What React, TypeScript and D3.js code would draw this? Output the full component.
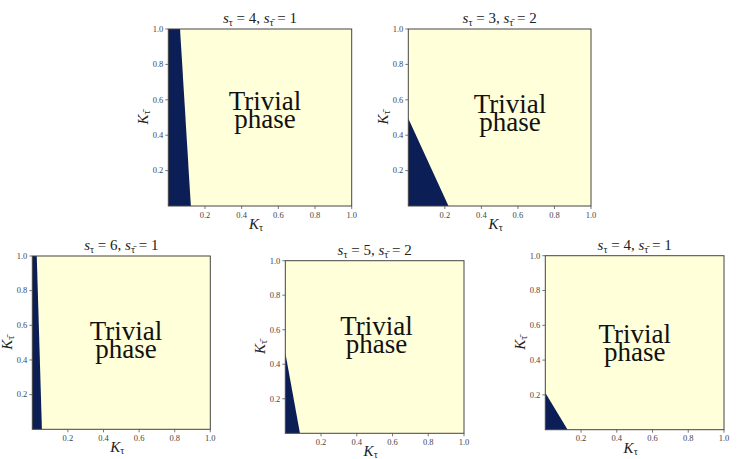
import React from "react";
import * as d3 from "d3";

// ---- data ----
const sTau = [4, 3, 6, 5, 4];
const sTauBar = [1, 2, 1, 2, 1];
// boundary of the dark (non-trivial) region: top point (x at y=top) and bottom point
const boundaryTopX = [0.064, 0, 0.025, 0, 0];
const boundaryTopY = [1.0, 0.495, 1.0, 0.467, 0.213];
const boundaryBottomX = [0.123, 0.22, 0.054, 0.082, 0.125];
const labelX = [0.527, 0.557, 0.526, 0.51, 0.5];
const labelY = [0.542, 0.525, 0.515, 0.57, 0.498];
const tickValues = [0.2, 0.4, 0.6, 0.8, 1.0];
const phaseLines = ["Trivial", "phase"];

// ---- layout ----
const boxes = [
  { x: 168.3, y: 29, w: 183.4, h: 177 },
  { x: 408.3, y: 29, w: 182.7, h: 177 },
  { x: 32.3, y: 256, w: 178, h: 173.3 },
  { x: 285.3, y: 260.7, w: 178.7, h: 172.6 },
  { x: 545.3, y: 255.7, w: 178.7, h: 174 },
];

const LIGHT = "#ffffd9";
const DARK = "#0b1f56";
const FONT = "'Liberation Serif', 'DejaVu Serif', serif";
const TAUBAR = "\u03C4\u0304";

function Panel({ i }: { i: number }) {
  const b = boxes[i];
  const x = d3.scaleLinear().domain([0, 1]).range([0, b.w]);
  const y = d3.scaleLinear().domain([0, 1]).range([b.h, 0]);
  const pts: [number, number][] = [
    [0, 0],
    [0, boundaryTopY[i]],
    [boundaryTopX[i], boundaryTopY[i]],
    [boundaryBottomX[i], 0],
  ];
  const line = d3
    .line<[number, number]>()
    .x((d) => x(d[0]))
    .y((d) => y(d[1]));
  return (
    <g transform={`translate(${b.x},${b.y})`} fontFamily={FONT}>
      <rect x={0} y={0} width={b.w} height={b.h} fill={LIGHT} />
      <path d={line(pts) + "Z"} fill={DARK} />
      <rect x={0} y={0} width={b.w} height={b.h} fill="none" stroke="#444" strokeWidth={1} />
      {tickValues.map((t) => (
        <g key={"x" + t} transform={`translate(${x(t)},${b.h})`}>
          <line y1={0} y2={3} stroke="#555" strokeWidth={0.8} />
          <text y={11.5} textAnchor="middle" fontSize={8.5} fill="#444">
            {t.toFixed(1)}
          </text>
        </g>
      ))}
      {tickValues.map((t) => (
        <g key={"y" + t} transform={`translate(0,${y(t)})`}>
          <line x1={0} x2={-3} stroke="#555" strokeWidth={0.8} />
          <text x={-5} dy="0.33em" textAnchor="end" fontSize={8.5} fill="#444">
            {t.toFixed(1)}
          </text>
        </g>
      ))}
      <text x={b.w / 2} y={-6} textAnchor="middle" fontSize={15} fill="#222">
        <tspan fontStyle="italic">s</tspan>
        <tspan fontSize={10} dy={3}>τ</tspan>
        <tspan dy={-3}> = {sTau[i]}, </tspan>
        <tspan fontStyle="italic">s</tspan>
        <tspan fontSize={10} dy={3}>{TAUBAR}</tspan>
        <tspan dy={-3}> = {sTauBar[i]}</tspan>
      </text>
      <text x={b.w / 2 - 4} y={b.h + 23} textAnchor="middle" fontSize={15} fill="#222">
        <tspan fontStyle="italic">K</tspan>
        <tspan fontSize={10} dy={2}>τ</tspan>
      </text>
      <text
        transform={`translate(${-20},${b.h / 2}) rotate(-90)`}
        textAnchor="middle"
        fontSize={15}
        fill="#222"
      >
        <tspan fontStyle="italic">K</tspan>
        <tspan fontSize={10} dy={2}>{TAUBAR}</tspan>
      </text>
      {phaseLines.map((s, k) => (
        <text
          key={s}
          x={x(labelX[i])}
          y={y(labelY[i]) + k * 18}
          textAnchor="middle"
          fontSize={27}
          fill="#111"
        >
          {s}
        </text>
      ))}
    </g>
  );
}

export default function App() {
  return (
    <svg width={747} height={459} style={{ display: "block", position: "absolute", left: 0, top: 0 }}>
      <rect width={747} height={459} fill="#fff" />
      {boxes.map((_, i) => (
        <Panel key={i} i={i} />
      ))}
    </svg>
  );
}
